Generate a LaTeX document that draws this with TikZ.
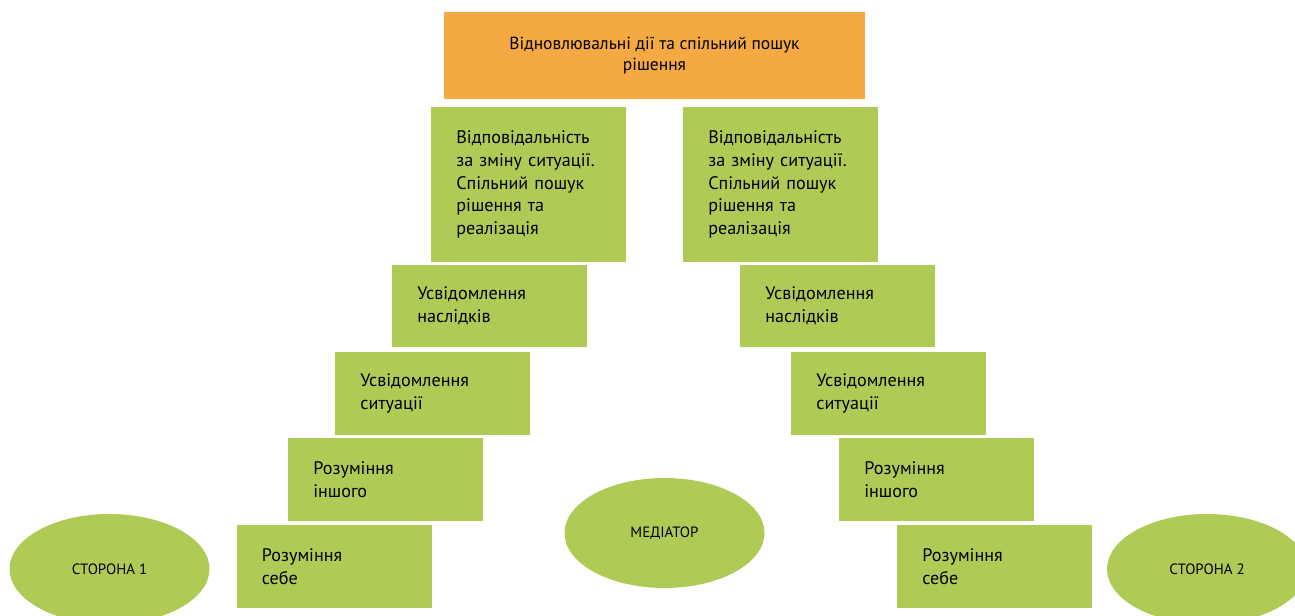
\documentclass[tikz,border=0pt]{standalone}
\usepackage{fontspec}
\setmainfont{PT Sans}
\usetikzlibrary{shapes.geometric}
\definecolor{goalorange}{HTML}{F5A942}
\definecolor{stairgreen}{HTML}{B0CB55}
\begin{document}
\begin{tikzpicture}[x=0.75pt,y=-0.75pt,
  stair/.style={fill=stairgreen, inner xsep=19pt, inner ysep=0pt,
    text width=108.25pt, minimum height=#1, align=left,
    font=\fontsize{13.6}{17}\selectfont},
  party/.style={ellipse, fill=stairgreen, inner sep=0pt,
    minimum width=150pt, minimum height=82.5pt,
    font=\fontsize{11.2}{13}\selectfont}]
\useasboundingbox (0,0) rectangle (1295,616);
\clip (0,0) rectangle (1295,616);

% top goal
\node[fill=goalorange, minimum width=315.75pt, minimum height=65.25pt, align=center,
  font=\fontsize{13.1}{15.75}\selectfont] (goal) at (654.5,55.5)
  {Відновлювальні дії та спільний пошук\\рішення};

% left stairs
\node[stair=116.25pt] (l1) at (528.5,184.5) {Відповідальність\\за зміну ситуації.\\Спільний пошук\\рішення та\\реалізація};
\node[stair=61.5pt] (l2) at (489.5,306) {Усвідомлення\\наслідків};
\node[stair=62.25pt] (l3) at (432.5,393.5) {Усвідомлення\\ситуації};
\node[stair=62.25pt] (l4) at (385.5,479.5) {Розуміння\\іншого};
\node[stair=62.25pt] (l5) at (334,566.5) {Розуміння\\себе};

% right stairs
\node[stair=116.25pt] (r1) at (780.5,184.5) {Відповідальність\\за зміну ситуації.\\Спільний пошук\\рішення та\\реалізація};
\node[stair=61.5pt] (r2) at (837.5,306) {Усвідомлення\\наслідків};
\node[stair=62.25pt] (r3) at (888.5,393.5) {Усвідомлення\\ситуації};
\node[stair=62.25pt] (r4) at (936.5,479.5) {Розуміння\\іншого};
\node[stair=62.25pt] (r5) at (994.5,566.5) {Розуміння\\себе};

% parties
\node[party] (side1) at (109.5,569) {СТОРОНА 1};
\node[party] (mediator) at (664.5,533) {МЕДІАТОР};
\node[party] (side2) at (1207,569) {СТОРОНА 2};

\end{tikzpicture}
\end{document}
